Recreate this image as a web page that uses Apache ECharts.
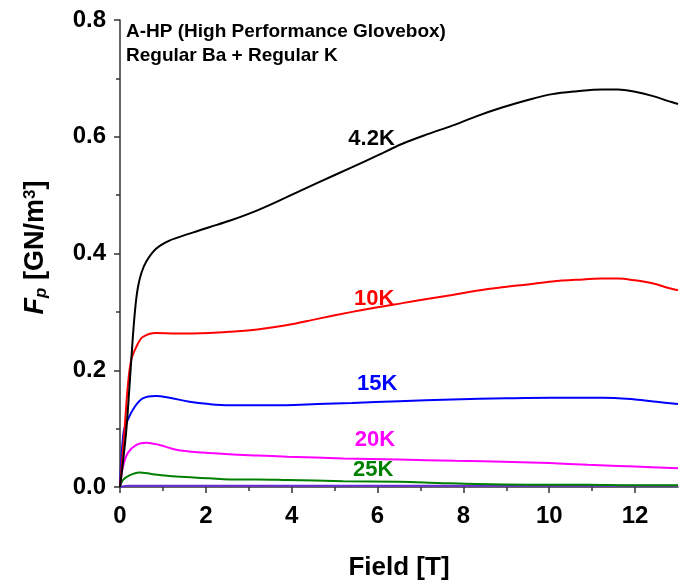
<!DOCTYPE html>
<html>
<head>
    <meta charset="utf-8">
    <title>Fp vs Field</title>
    <script src="https://cdn.jsdelivr.net/npm/echarts@6/dist/echarts.min.js"></script>
    <style>
        html, body { margin: 0; padding: 0; background: #fff; }
        #chartmain { width: 680px; height: 588px; }
    </style>
</head>
<body>
<div id="chartmain"></div>
<script type="text/javascript">
    // field [T] and Fp [GN/m3]
    var field42 = [0, 0.14, 0.22, 0.30, 0.36, 0.42, 0.50, 0.61, 0.84, 1.15, 1.62, 2.08, 2.55, 3.2, 3.87, 4.6, 5.41, 6.0, 6.58, 7.15, 7.74, 8.3, 8.9, 9.5, 10.07, 10.65, 11.23, 11.6, 12.0, 12.4, 12.78, 13.0];
    var fp42    = [0, 0.092, 0.171, 0.258, 0.310, 0.343, 0.367, 0.386, 0.408, 0.422, 0.434, 0.445, 0.456, 0.474, 0.496, 0.521, 0.548, 0.568, 0.588, 0.604, 0.619, 0.635, 0.650, 0.663, 0.673, 0.678, 0.681, 0.681, 0.677, 0.670, 0.661, 0.656];

    var field10 = [0, 0.10, 0.18, 0.26, 0.38, 0.53, 0.84, 1.31, 2.08, 2.55, 3.2, 3.87, 4.6, 5.41, 6.0, 6.58, 7.15, 7.74, 8.3, 8.9, 9.5, 10.07, 10.65, 11.23, 11.6, 12.0, 12.4, 12.78, 13.0];
    var fp10    = [0, 0.092, 0.171, 0.217, 0.240, 0.257, 0.264, 0.263, 0.264, 0.266, 0.270, 0.277, 0.288, 0.300, 0.308, 0.315, 0.322, 0.329, 0.336, 0.342, 0.347, 0.352, 0.355, 0.357, 0.357, 0.354, 0.349, 0.341, 0.337];

    var field15 = [0, 0.08, 0.18, 0.34, 0.53, 0.84, 1.15, 1.62, 2.08, 2.55, 3.2, 3.87, 4.6, 5.41, 6.5, 7.74, 9.0, 10.07, 11.23, 12.0, 12.5, 13.0];
    var fp15    = [0, 0.092, 0.115, 0.137, 0.152, 0.156, 0.153, 0.146, 0.142, 0.140, 0.140, 0.140, 0.142, 0.144, 0.147, 0.150, 0.152, 0.153, 0.153, 0.150, 0.146, 0.142];

    var field20 = [0, 0.07, 0.18, 0.38, 0.61, 0.92, 1.31, 1.93, 2.55, 3.2, 3.9, 5.2, 6.5, 7.8, 9.14, 10.0, 10.9, 12.0, 13.0];
    var fp20    = [0, 0.035, 0.058, 0.072, 0.076, 0.072, 0.064, 0.059, 0.056, 0.054, 0.052, 0.049, 0.047, 0.045, 0.043, 0.041, 0.038, 0.035, 0.032];

    var field25 = [0, 0.07, 0.22, 0.45, 0.76, 1.31, 2.08, 2.55, 3.2, 3.9, 5.2, 6.5, 7.4, 8.3, 9.5, 10.9, 12.0, 13.0];
    var fp25    = [0, 0.012, 0.020, 0.025, 0.022, 0.018, 0.015, 0.013, 0.013, 0.012, 0.010, 0.009, 0.007, 0.005, 0.004, 0.004, 0.003, 0.003];

    var field30 = [0, 0.2, 1, 3, 5, 7, 9, 11, 13];
    var fp30    = [0, 0.002, 0.002, 0.002, 0.002, 0.002, 0.002, 0.002, 0.002];

    var xMajorTicks = [0, 2, 4, 6, 8, 10, 12];
    var xMinorTicks = [1, 3, 5, 7, 9, 11];

    var tempNames  = ['4.2K', '10K', '15K', '20K', '25K', '30K'];
    var tempColors = ['#000000', '#ff0000', '#0000ff', '#ff00ff', '#008000', '#6a2bd9'];
    // where the temperature text sits, in data units [T, GN/m3]
    var labelAt    = [[5.86, 0.597], [5.92, 0.323], [5.99, 0.176], [5.94, 0.080], [5.90, 0.029], null];

    var fieldList = [field42, field10, field15, field20, field25, field30];
    var fpList    = [fp42, fp10, fp15, fp20, fp25, fp30];

    var FONT = '"Liberation Sans", Arial, sans-serif';

    function pairs(xs, ys) {
        var out = [];
        for (var i = 0; i < xs.length; i++) {
            out.push([xs[i], ys[i]]);
        }
        return out;
    }

    var series = [];
    for (var i = 0; i < tempNames.length; i++) {
        var s = {
            name: tempNames[i],
            type: 'line',
            xAxisIndex: 0,
            yAxisIndex: 0,
            data: pairs(fieldList[i], fpList[i]),
            smooth: 0.35,
            symbol: 'none',
            lineStyle: {width: 2, color: tempColors[i]},
            itemStyle: {color: tempColors[i]},
            z: 10 - i
        };
        if (labelAt[i]) {
            s.markPoint = {
                symbol: 'circle',
                symbolSize: 1,
                itemStyle: {color: 'rgba(0,0,0,0)'},
                label: {
                    show: true,
                    position: 'inside',
                    formatter: tempNames[i],
                    color: tempColors[i],
                    fontFamily: FONT,
                    fontWeight: 'bold',
                    fontSize: 22
                },
                data: [{coord: labelAt[i]}]
            };
        }
        series.push(s);
    }

    var myChart = echarts.init(document.getElementById('chartmain'));
    var option = {
        animation: false,
        backgroundColor: '#fff',
        grid: {left: 120, right: 2, top: 20, bottom: 101},
        xAxis: [
            {
                type: 'value',
                min: 0,
                max: 13,
                name: 'Field [T]',
                nameLocation: 'middle',
                nameGap: 68,
                nameTextStyle: {fontFamily: FONT, fontWeight: 'bold', fontSize: 26, color: '#000'},
                axisLine: {show: true, lineStyle: {color: '#333', width: 1.5}},
                axisTick: {show: true, length: 6, customValues: xMajorTicks, lineStyle: {color: '#333', width: 1.5}},
                axisLabel: {customValues: xMajorTicks, margin: 17, fontFamily: FONT, fontWeight: 'bold', fontSize: 24, color: '#000'},
                splitLine: {show: false}
            },
            {
                type: 'value',
                min: 0,
                max: 13,
                position: 'bottom',
                axisLine: {show: false},
                axisTick: {show: true, length: 4, customValues: xMinorTicks, lineStyle: {color: '#333', width: 1.5}},
                axisLabel: {show: false},
                splitLine: {show: false}
            }
        ],
        yAxis: {
            type: 'value',
            min: 0,
            max: 0.8,
            interval: 0.2,
            name: '{it|F}{sub|p} [GN/m{sup|3}]',
            nameLocation: 'middle',
            nameGap: 70,
            nameRotate: 90,
            nameTextStyle: {
                fontFamily: FONT, fontWeight: 'bold', fontSize: 27, color: '#000',
                padding: [0, 0, 0, 12],
                rich: {
                    it: {fontFamily: FONT, fontWeight: 'bold', fontStyle: 'italic', fontSize: 27, color: '#000'},
                    sub: {fontFamily: FONT, fontStyle: 'italic', fontSize: 17, color: '#000', verticalAlign: 'bottom', padding: [11, 0, 0, 0]},
                    sup: {fontFamily: FONT, fontWeight: 'bold', fontSize: 17, color: '#000', verticalAlign: 'top', padding: [0, 0, 11, 0]}
                }
            },
            axisLine: {show: true, lineStyle: {color: '#333', width: 1.5}},
            axisTick: {show: true, length: 6, lineStyle: {color: '#333', width: 1.5}},
            minorTick: {show: true, splitNumber: 2, length: 4, lineStyle: {color: '#333', width: 1.5}},
            axisLabel: {
                margin: 14, fontFamily: FONT, fontWeight: 'bold', fontSize: 24, color: '#000',
                formatter: function (v) { return v.toFixed(1); }
            },
            splitLine: {show: false}
        },
        graphic: [
            {
                type: 'text',
                left: 126,
                top: 20,
                style: {
                    text: 'A-HP (High Performance Glovebox)\nRegular Ba + Regular K',
                    fontFamily: FONT,
                    fontWeight: 'bold',
                    fontSize: 19,
                    lineHeight: 24,
                    fill: '#000',
                    backgroundColor: '#fff'
                }
            }
        ],
        series: series
    };
    myChart.setOption(option);
</script>
</body>
</html>
